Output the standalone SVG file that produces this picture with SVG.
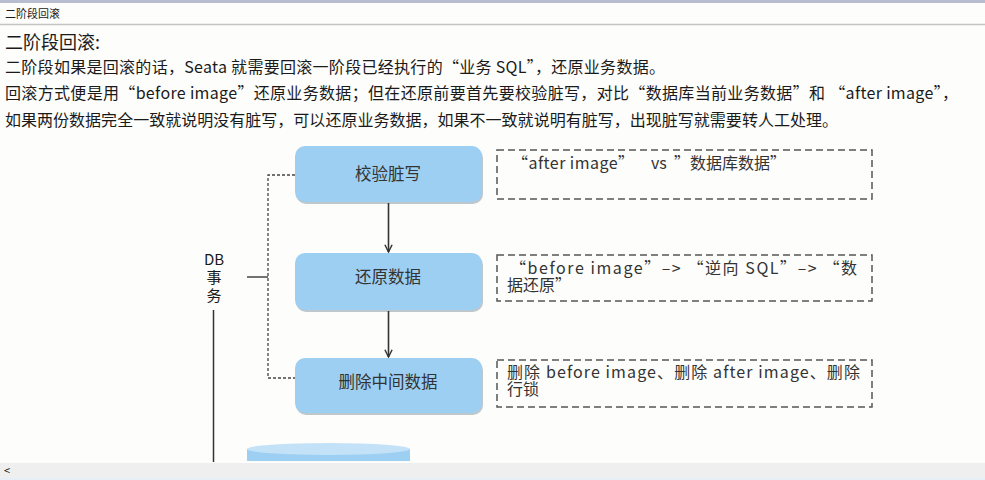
<svg xmlns="http://www.w3.org/2000/svg" width="985" height="480" viewBox="0 0 985 480">
<style>
  .t { font-family: "Noto Sans CJK SC", "Noto Sans", sans-serif; fill: #1a1a1a; }
  .body { font-size: 16px; }
  .node rect.b { fill: #9dcff2; }
  .node rect.s { fill: #8a9aa6; opacity: 0.55; }
  .node text { font-family: "Noto Sans CJK SC", "Noto Sans", sans-serif; font-size: 16.5px; fill: #333; text-anchor: middle; }
  .note rect { fill: none; stroke: #555; stroke-width: 1.5; stroke-dasharray: 7 4; }
  .note text { font-family: "Noto Sans CJK SC", "Noto Sans", sans-serif; font-size: 16px; fill: #333; }
  .conn line { stroke: #333; stroke-width: 1.6; }
  .brk { fill: none; stroke: #444; stroke-width: 1.3; stroke-dasharray: 3 2; }
</style>
<defs>
  <marker id="ah" viewBox="0 0 10 10" refX="9" refY="5" markerWidth="9" markerHeight="9" orient="auto" markerUnits="userSpaceOnUse">
    <path d="M1,1 L9,5 L1,9" fill="none" stroke="#333" stroke-width="1.6"/>
  </marker>
</defs>
<rect x="0" y="0" width="985" height="480" fill="#fdfdfb"/>
<rect x="0" y="0" width="985" height="3" fill="#b9bdd0"/>
<line x1="0" y1="24.5" x2="985" y2="24.5" stroke="#c4c4c4" stroke-width="1.5"/>
<text class="t" x="5" y="18" font-size="11" fill="#333">二阶段回滚</text>

<text class="t" x="5" y="49" font-size="18">二阶段回滚:</text>
<text class="t body" x="5" y="73" textLength="660" lengthAdjust="spacing">二阶段如果是回滚的话，Seata 就需要回滚一阶段已经执行的“业务 SQL”，还原业务数据。</text>
<text class="t body" x="5" y="99" textLength="953" lengthAdjust="spacing">回滚方式便是用“before image”还原业务数据；但在还原前要首先要校验脏写，对比“数据库当前业务数据”和 “after image”，</text>
<text class="t body" x="5" y="126" textLength="833" lengthAdjust="spacing">如果两份数据完全一致就说明没有脏写，可以还原业务数据，如果不一致就说明有脏写，出现脏写就需要转人工处理。</text>

<!-- DB transaction bracket -->
<g id="db-label">
  <text class="t" x="214" y="265" font-size="15" text-anchor="middle" fill="#333">DB</text>
  <text class="t" x="214" y="283" font-size="15" text-anchor="middle" fill="#333">事</text>
  <text class="t" x="214" y="301" font-size="15" text-anchor="middle" fill="#333">务</text>
  <path class="brk" d="M295,175 H268 V378 H295"/>
  <line x1="247" y1="277" x2="268" y2="277" stroke="#444" stroke-width="1.5"/>
  <line x1="213.5" y1="310" x2="213.5" y2="462" stroke="#333" stroke-width="1.5"/>
</g>

<g id="node-check" class="node">
  <rect class="s" x="296" y="148" width="187" height="56" rx="10"/>
  <rect class="b" x="295" y="146" width="187" height="56" rx="10"/>
  <text x="388" y="180">校验脏写</text>
</g>
<g id="node-restore" class="node">
  <rect class="s" x="296" y="255" width="187" height="57" rx="10"/>
  <rect class="b" x="295" y="253" width="187" height="57" rx="10"/>
  <text x="388" y="283">还原数据</text>
</g>
<g id="node-delete" class="node">
  <rect class="s" x="296" y="360" width="187" height="55" rx="10"/>
  <rect class="b" x="295" y="358" width="187" height="55" rx="10"/>
  <text x="388" y="388">删除中间数据</text>
</g>

<g id="connectors" class="conn">
  <line x1="388.5" y1="203" x2="388.5" y2="252" marker-end="url(#ah)"/>
  <line x1="388.5" y1="311" x2="388.5" y2="357" marker-end="url(#ah)"/>
</g>

<g id="note-check" class="note">
  <rect x="497" y="150" width="375" height="49"/>
  <text x="512" y="169" textLength="122" lengthAdjust="spacing">“after image”</text>
  <text x="651" y="169" fill="#e0413a">vs</text>
  <text x="674" y="169">”数据库数据”</text>
</g>
<g id="note-restore" class="note">
  <rect x="497" y="255" width="375" height="46"/>
  <text x="510" y="274" textLength="347" lengthAdjust="spacing">“before image”–&gt;  “逆向 SQL”–&gt;  “数</text>
  <text x="507" y="291">据还原”</text>
</g>
<g id="note-delete" class="note">
  <rect x="497" y="360" width="375" height="47"/>
  <text x="507" y="378" textLength="353" lengthAdjust="spacing">删除 before image、删除 after image、删除</text>
  <text x="507" y="395">行锁</text>
</g>

<g id="db-cylinder">
  <rect x="247" y="449" width="163" height="12" fill="#9dcff2"/>
  <ellipse cx="328.5" cy="449" rx="81.5" ry="6" fill="#c3e2f8"/>
</g>

<rect x="0" y="463" width="985" height="17" fill="#efefef"/>
<rect x="0" y="478" width="985" height="2" fill="#e6eef6"/>
<text class="t" x="4" y="475" font-size="11" fill="#aaa">&lt;</text>
</svg>
